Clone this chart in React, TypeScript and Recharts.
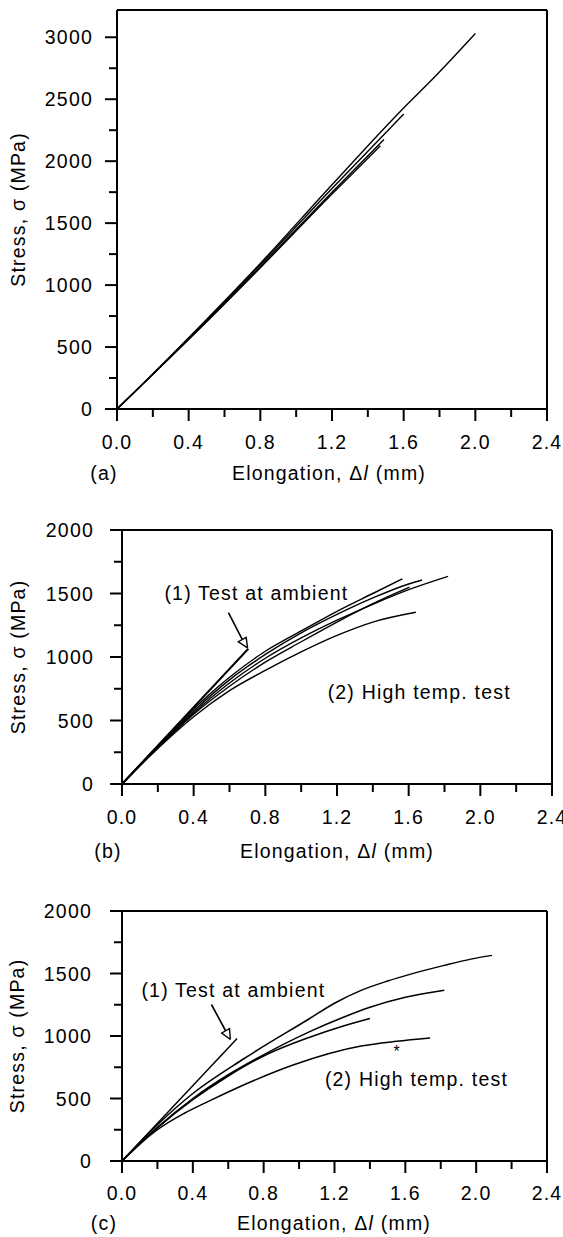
import React from 'react';
import { LineChart, Line, XAxis, YAxis, ReferenceLine, ReferenceDot } from 'recharts';

const FONT = '"Liberation Sans", Arial, Helvetica, sans-serif';
const FS = 19.5;
const LS = 1.2;

// ---------- shared ticks ----------
const xTicks = [0, 0.2, 0.4, 0.6, 0.8, 1.0, 1.2, 1.4, 1.6, 1.8, 2.0, 2.2, 2.4];
const aYTicks = [0, 250, 500, 750, 1000, 1250, 1500, 1750, 2000, 2250, 2500, 2750, 3000];
const bcYTicks = [0, 250, 500, 750, 1000, 1250, 1500, 1750, 2000];
const xAxisTitle = 'Elongation, Δ';
const yAxisTitle = 'Stress, σ (MPa)';

// ---------- panel (a) ----------
const a1x = [0, 0.1, 0.4, 0.8, 1.2, 1.6, 1.77, 2.0];
const a1y = [0, 140, 575, 1175, 1810, 2430, 2675, 3030];
const a2x = [0, 0.4, 0.8, 1.2, 1.6];
const a2y = [0, 570, 1165, 1780, 2380];
const a3x = [0, 0.4, 0.8, 1.2, 1.49];
const a3y = [0, 565, 1150, 1750, 2175];
const a4x = [0, 0.4, 0.8, 1.2, 1.47];
const a4y = [0, 560, 1140, 1735, 2125];

// ---------- panel (b) ----------
const bAmbX = [0, 0.705];
const bAmbY = [0, 1065];
const b1x = [0, 0.2, 0.4, 0.6, 0.8, 1.0, 1.2, 1.4, 1.565];
const b1y = [0, 300, 590, 840, 1045, 1205, 1360, 1500, 1615];
const b2x = [0, 0.2, 0.4, 0.6, 0.8, 1.0, 1.2, 1.4, 1.6, 1.675];
const b2y = [0, 295, 575, 820, 1020, 1190, 1335, 1465, 1575, 1606];
const b3x = [0, 0.2, 0.4, 0.6, 0.8, 1.0, 1.2, 1.4, 1.6, 1.82];
const b3y = [0, 290, 560, 795, 990, 1150, 1290, 1415, 1530, 1635];
const b4x = [0, 0.2, 0.4, 0.6, 0.8, 1.0, 1.2, 1.4, 1.605];
const b4y = [0, 285, 550, 770, 960, 1120, 1275, 1420, 1550];
const b5x = [0, 0.2, 0.4, 0.6, 0.8, 1.0, 1.2, 1.4, 1.64];
const b5y = [0, 280, 530, 735, 895, 1040, 1170, 1275, 1352];
const bArrowX = [0.594, 0.671];
const bArrowY = [1349, 1138];
const bHeadX = [0.701, 0.693, 0.649, 0.701];
const bHeadY = [1072, 1155, 1120, 1072];

// ---------- panel (c) ----------
const cAmbX = [0, 0.65];
const cAmbY = [0, 980];
const c1x = [0, 0.2, 0.4, 0.69, 1.06, 1.2, 1.35, 1.5, 1.63, 1.82, 1.97, 2.09];
const c1y = [0, 290, 540, 820, 1140, 1262, 1365, 1440, 1495, 1565, 1615, 1645];
const c2x = [0, 0.2, 0.4, 0.6, 0.78, 1.06, 1.25, 1.4, 1.6, 1.82];
const c2y = [0, 270, 500, 690, 835, 1035, 1150, 1230, 1310, 1366];
const c3x = [0, 0.2, 0.4, 0.6, 0.8, 1.06, 1.25, 1.4];
const c3y = [0, 265, 490, 680, 840, 990, 1080, 1140];
const c4x = [0, 0.1, 0.2, 0.35, 0.5, 0.69, 0.97, 1.35, 1.55, 1.74];
const c4y = [0, 135, 250, 380, 485, 610, 770, 920, 958, 985];
const cArrowX = [0.505, 0.585];
const cArrowY = [1252, 1042];
const cHeadX = [0.612, 0.607, 0.563, 0.612];
const cHeadY = [972, 1058, 1024, 972];

const pts = (xs: number[], ys: number[]) => xs.map((x, i) => ({ x, y: ys[i] }));

const textProps = {
  fontFamily: FONT,
  fontSize: FS,
  letterSpacing: LS,
  fill: '#000',
};

const makeXTick = (labelDy: number) => (props: any) => {
  const { x, y, payload } = props;
  const v = payload.value;
  const major = Math.round(v * 10) % 4 === 0;
  return (
    <g>
      <line x1={x} x2={x} y1={y} y2={y + (major ? 12 : 8)} stroke="#000" strokeWidth={2} />
      {major && (
        <text x={x} y={y + labelDy} textAnchor="middle" dominantBaseline="central" {...textProps}>
          {v.toFixed(1)}
        </text>
      )}
    </g>
  );
};

const makeYTick = (labelDx: number) => (props: any) => {
  const { x, y, payload } = props;
  const v = payload.value;
  const major = v % 500 === 0;
  return (
    <g>
      <line x1={x - (major ? 12 : 8)} x2={x} y1={y} y2={y} stroke="#000" strokeWidth={2} />
      {major && (
        <text x={x - labelDx} y={y} textAnchor="end" dominantBaseline="central" {...textProps}>
          {v}
        </text>
      )}
    </g>
  );
};

const makeXLabel = (tag: string, tagX: number, titleX: number, dy: number) => (props: any) => {
  const vb = props.viewBox;
  return (
    <g>
      <text x={tagX} y={vb.y + dy} textAnchor="middle" dominantBaseline="central" {...textProps}>
        {tag}
      </text>
      <text x={titleX} y={vb.y + dy} textAnchor="middle" dominantBaseline="central" {...textProps}>
        {xAxisTitle}
        <tspan fontStyle="italic">l</tspan>
        {' (mm)'}
      </text>
    </g>
  );
};

const makeYLabel = (cx: number) => (props: any) => {
  const vb = props.viewBox;
  const cy = vb.y + vb.height / 2;
  return (
    <text
      x={cx}
      y={cy}
      textAnchor="middle"
      dominantBaseline="central"
      transform={`rotate(-90, ${cx}, ${cy})`}
      {...textProps}
    >
      {yAxisTitle}
    </text>
  );
};

const annot = (text: string, size = FS, dy = 0) => (props: any) => {
  const vb = props.viewBox;
  const cx = vb.x + vb.width / 2;
  const cy = vb.y + vb.height / 2;
  return (
    <text
      x={cx}
      y={cy + dy}
      textAnchor="middle"
      dominantBaseline={dy ? 'auto' : 'central'}
      {...textProps}
      fontSize={size}
    >
      {text}
    </text>
  );
};

type Series = { data: { x: number; y: number }[]; w: number; smooth: boolean };

type PanelProps = {
  top: number;
  height: number;
  margin: { top: number; right: number; bottom: number; left: number };
  yWidth: number;
  yMax: number;
  yTicks: number[];
  series: Series[];
  tag: string;
  tagX: number;
  titleX: number;
  titleDy: number;
  tickDy: number;
  tickDx: number;
  yLabelX: number;
  children?: React.ReactNode;
};

function Panel(p: PanelProps) {
  return (
    <div style={{ position: 'absolute', left: 0, top: p.top, width: 563, height: p.height }}>
      <LineChart width={563} height={p.height} margin={p.margin}>
        <XAxis
          dataKey="x"
          type="number"
          domain={[0, 2.4]}
          ticks={xTicks}
          interval={0}
          allowDataOverflow
          tickSize={0}
          tickMargin={0}
          tickLine={false}
          tick={makeXTick(p.tickDy)}
          axisLine={{ stroke: '#000', strokeWidth: 2 }}
          height={60}
          label={makeXLabel(p.tag, p.tagX, p.titleX, p.titleDy)}
        />
        <YAxis
          dataKey="y"
          type="number"
          domain={[0, p.yMax]}
          ticks={p.yTicks}
          interval={0}
          allowDataOverflow
          tickSize={0}
          tickMargin={0}
          tickLine={false}
          tick={makeYTick(p.tickDx)}
          axisLine={{ stroke: '#000', strokeWidth: 2 }}
          width={p.yWidth}
          label={makeYLabel(p.yLabelX)}
        />
        <ReferenceLine y={p.yMax} stroke="#000" strokeWidth={2} />
        <ReferenceLine x={2.4} stroke="#000" strokeWidth={2} />
        {p.series.map((s, i) => (
          <Line
            key={i}
            data={s.data}
            dataKey="y"
            type={s.smooth ? 'monotone' : 'linear'}
            stroke="#000"
            strokeWidth={s.w}
            dot={false}
            activeDot={false}
            isAnimationActive={false}
          />
        ))}
        {p.children}
      </LineChart>
    </div>
  );
}

export default function App() {
  const seriesA: Series[] = [
    { data: pts(a1x, a1y), w: 1.4, smooth: true },
    { data: pts(a2x, a2y), w: 1.4, smooth: true },
    { data: pts(a3x, a3y), w: 1.4, smooth: true },
    { data: pts(a4x, a4y), w: 1.4, smooth: true },
  ];
  const seriesB: Series[] = [
    { data: pts(bAmbX, bAmbY), w: 2, smooth: false },
    { data: pts(b1x, b1y), w: 1.4, smooth: true },
    { data: pts(b2x, b2y), w: 1.4, smooth: true },
    { data: pts(b3x, b3y), w: 1.4, smooth: true },
    { data: pts(b4x, b4y), w: 1.4, smooth: true },
    { data: pts(b5x, b5y), w: 1.4, smooth: true },
    { data: pts(bArrowX, bArrowY), w: 1.6, smooth: false },
    { data: pts(bHeadX, bHeadY), w: 1.4, smooth: false },
  ];
  const seriesC: Series[] = [
    { data: pts(cAmbX, cAmbY), w: 1.5, smooth: false },
    { data: pts(c1x, c1y), w: 1.5, smooth: true },
    { data: pts(c2x, c2y), w: 1.5, smooth: true },
    { data: pts(c3x, c3y), w: 1.5, smooth: true },
    { data: pts(c4x, c4y), w: 1.5, smooth: true },
    { data: pts(cArrowX, cArrowY), w: 1.6, smooth: false },
    { data: pts(cHeadX, cHeadY), w: 1.4, smooth: false },
  ];

  return (
    <div style={{ position: 'absolute', left: 0, top: 0, width: 563, height: 1237, background: '#fff' }}>
      <Panel
        top={0}
        height={485}
        margin={{ top: 10, right: 16, bottom: 16, left: 0 }}
        yWidth={117}
        yMax={3220}
        yTicks={aYTicks}
        series={seriesA}
        tag="(a)"
        tagX={104}
        titleX={329}
        titleDy={64}
        tickDy={33}
        tickDx={24}
        yLabelX={18}
      />
      <Panel
        top={480}
        height={395}
        margin={{ top: 50, right: 11, bottom: 31, left: 0 }}
        yWidth={122}
        yMax={2000}
        yTicks={bcYTicks}
        series={seriesB}
        tag="(b)"
        tagX={108}
        titleX={337}
        titleDy={67}
        tickDy={33}
        tickDx={28}
        yLabelX={18}
      >
        <ReferenceDot x={0.75} y={1502} r={2} fill="none" stroke="none" label={annot('(1) Test at ambient')} />
        <ReferenceDot x={1.659} y={728} r={2} fill="none" stroke="none" label={annot('(2) High temp. test')} />
      </Panel>
      <Panel
        top={860}
        height={377}
        margin={{ top: 51, right: 16, bottom: 16, left: 0 }}
        yWidth={122}
        yMax={2000}
        yTicks={bcYTicks}
        series={seriesC}
        tag="(c)"
        tagX={104}
        titleX={334}
        titleDy={62}
        tickDy={32}
        tickDx={30}
        yLabelX={17}
      >
        <ReferenceDot x={0.629} y={1372} r={2} fill="none" stroke="none" label={annot('(1) Test at ambient')} />
        <ReferenceDot x={1.663} y={659} r={2} fill="none" stroke="none" label={annot('(2) High temp. test')} />
        <ReferenceDot x={1.554} y={907} r={2} fill="none" stroke="none" label={annot('*', 16, 9)} />
      </Panel>
    </div>
  );
}
